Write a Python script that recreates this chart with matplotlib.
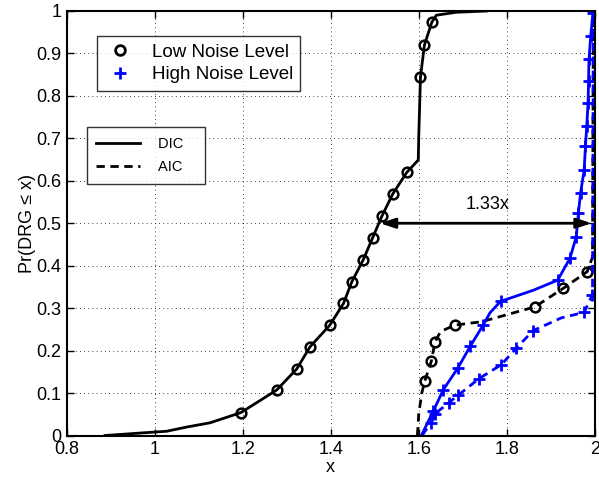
import numpy as np
import matplotlib
matplotlib.use("Agg")
import matplotlib.pyplot as plt
from matplotlib.lines import Line2D

plt.rcParams["font.family"] = ["Liberation Sans", "DejaVu Sans"]

# low noise level, DIC (black solid, circles)
low_dic_x = [0.887, 0.97, 1.027, 1.073, 1.126, 1.196, 1.277, 1.323, 1.353, 1.398, 1.429, 1.448,
             1.474, 1.495, 1.516, 1.541, 1.573, 1.599, 1.600, 1.604, 1.613, 1.630, 1.640, 1.685, 1.754]
low_dic_y = [0.0, 0.006, 0.010, 0.020, 0.030, 0.054, 0.107, 0.157, 0.209, 0.260, 0.311, 0.362,
             0.414, 0.465, 0.516, 0.569, 0.620, 0.649, 0.700, 0.844, 0.920, 0.974, 0.990, 0.997, 1.0]
low_dic_mx = [1.196, 1.277, 1.323, 1.353, 1.398, 1.429, 1.448, 1.474, 1.495, 1.516, 1.541, 1.573,
              1.604, 1.613, 1.630]
low_dic_my = [0.054, 0.107, 0.157, 0.209, 0.260, 0.311, 0.362, 0.414, 0.465, 0.516, 0.569, 0.620,
              0.844, 0.920, 0.974]

# low noise level, AIC (black dashed, circles)
low_aic_x = [1.597, 1.600, 1.607, 1.614, 1.629, 1.637, 1.650, 1.682, 1.743, 1.864, 1.929, 1.983,
             1.995, 1.997]
low_aic_y = [0.0, 0.05, 0.10, 0.129, 0.176, 0.221, 0.245, 0.260, 0.268, 0.303, 0.347, 0.386,
             0.420, 1.0]
low_aic_mx = [1.614, 1.629, 1.637, 1.682, 1.864, 1.929, 1.983]
low_aic_my = [0.129, 0.176, 0.221, 0.260, 0.303, 0.347, 0.386]

# high noise level, DIC (blue solid, plus)
high_dic_x = [1.606, 1.633, 1.656, 1.689, 1.717, 1.747, 1.762, 1.786, 1.860, 1.916, 1.944, 1.958,
              1.963, 1.968, 1.976, 1.979, 1.982, 1.985, 1.986, 1.987, 1.991, 1.996, 1.997]
high_dic_y = [0.0, 0.057, 0.108, 0.159, 0.210, 0.261, 0.289, 0.316, 0.342, 0.366, 0.418, 0.468,
              0.524, 0.572, 0.625, 0.681, 0.730, 0.784, 0.834, 0.886, 0.941, 0.995, 1.0]
high_dic_mx = [1.633, 1.656, 1.689, 1.717, 1.747, 1.786, 1.916, 1.944, 1.958, 1.963, 1.968, 1.976,
               1.979, 1.982, 1.985, 1.986, 1.987, 1.991, 1.996]
high_dic_my = [0.057, 0.108, 0.159, 0.210, 0.261, 0.316, 0.366, 0.418, 0.468, 0.524, 0.572, 0.625,
               0.681, 0.730, 0.784, 0.834, 0.886, 0.941, 0.995]

# high noise level, AIC (blue dashed, plus)
high_aic_x = [1.608, 1.617, 1.629, 1.637, 1.668, 1.690, 1.737, 1.788, 1.822, 1.860, 1.924, 1.976,
              1.995, 1.997]
high_aic_y = [0.0, 0.014, 0.030, 0.051, 0.077, 0.095, 0.134, 0.167, 0.206, 0.247, 0.277, 0.290,
              0.332, 1.0]
high_aic_mx = [1.629, 1.637, 1.668, 1.690, 1.737, 1.788, 1.822, 1.860, 1.976, 1.995]
high_aic_my = [0.030, 0.051, 0.077, 0.095, 0.134, 0.167, 0.206, 0.247, 0.290, 0.332]

xticks = [0.8, 1.0, 1.2, 1.4, 1.6, 1.8, 2.0]
xticklabels = ["0.8", "1", "1.2", "1.4", "1.6", "1.8", "2"]
yticks = [0, 0.1, 0.2, 0.3, 0.4, 0.5, 0.6, 0.7, 0.8, 0.9, 1.0]
yticklabels = ["0", "0.1", "0.2", "0.3", "0.4", "0.5", "0.6", "0.7", "0.8", "0.9", "1"]

arrow_y = 0.5
arrow_x = [1.512, 1.993]
ratio_text = "1.33x"

fig = plt.figure(figsize=(5.99, 4.78), dpi=100)
ax = fig.add_axes([0.1114, 0.0889, 0.8814, 0.8881])

lw = 2.0
ax.plot(low_dic_x, low_dic_y, "-", color="k", lw=lw)
ax.plot(low_dic_mx, low_dic_my, "o", mfc="none", mec="k", mew=1.8, ms=7)
ax.plot(low_aic_x, low_aic_y, "--", color="k", lw=lw, dashes=(3, 2))
ax.plot(low_aic_mx, low_aic_my, "o", mfc="none", mec="k", mew=1.8, ms=7)
ax.plot(high_dic_x, high_dic_y, "-", color="b", lw=lw)
ax.plot(high_dic_mx, high_dic_my, "+", color="b", mew=2, ms=9)
ax.plot(high_aic_x, high_aic_y, "--", color="b", lw=lw, dashes=(3, 2))
ax.plot(high_aic_mx, high_aic_my, "+", color="b", mew=2, ms=9)

ax.annotate("", xy=(arrow_x[0], arrow_y), xytext=(arrow_x[1], arrow_y),
            arrowprops=dict(arrowstyle="<|-|>,head_length=0.9,head_width=0.3",
                            color="k", lw=2, shrinkA=0, shrinkB=0))
ax.text(np.mean(arrow_x) + 0.005, arrow_y + 0.043, ratio_text, ha="center", va="center", fontsize=13)

ax.set_xlim(0.8, 2.0)
ax.set_ylim(0, 1)
ax.set_xticks(xticks)
ax.set_xticklabels(xticklabels)
ax.set_yticks(yticks)
ax.set_yticklabels(yticklabels)
ax.tick_params(direction="in", top=True, right=True, length=5, width=1, labelsize=13, pad=4)
ax.grid(True, color="k", linestyle=(0, (1, 4)), lw=0.6)
for s in ax.spines.values():
    s.set_linewidth(1.5)
ax.set_xlabel("x", fontsize=13, labelpad=1)
ax.set_ylabel("Pr(DRG \u2264 x)", fontsize=13, labelpad=0)

h1 = [Line2D([], [], ls="none", marker="o", mfc="none", mec="k", mew=2, ms=7),
      Line2D([], [], ls="none", marker="+", color="b", mew=2, ms=8)]
leg1 = ax.legend(h1, ["Low Noise Level", "High Noise Level"], loc="upper left",
                 bbox_to_anchor=(0.058, 0.941), fontsize=13.5, frameon=True, fancybox=False,
                 edgecolor="k", handlelength=1.6, handletextpad=0.9, borderpad=0.4,
                 labelspacing=0.3, borderaxespad=0)
leg1.get_frame().set_linewidth(1)
ax.add_artist(leg1)

h2 = [Line2D([], [], color="k", lw=2, ls="-"),
      Line2D([], [], color="k", lw=2, ls="--", dashes=(3, 2))]
leg2 = ax.legend(h2, ["DIC   ", "AIC   "], loc="upper left", bbox_to_anchor=(0.038, 0.726),
                 fontsize=10.5, frameon=True, fancybox=False, edgecolor="k",
                 handlelength=3.0, handletextpad=1.2, borderpad=0.65, labelspacing=0.65,
                 borderaxespad=0)
leg2.get_frame().set_linewidth(1)

fig.savefig("out.png", dpi=100)
